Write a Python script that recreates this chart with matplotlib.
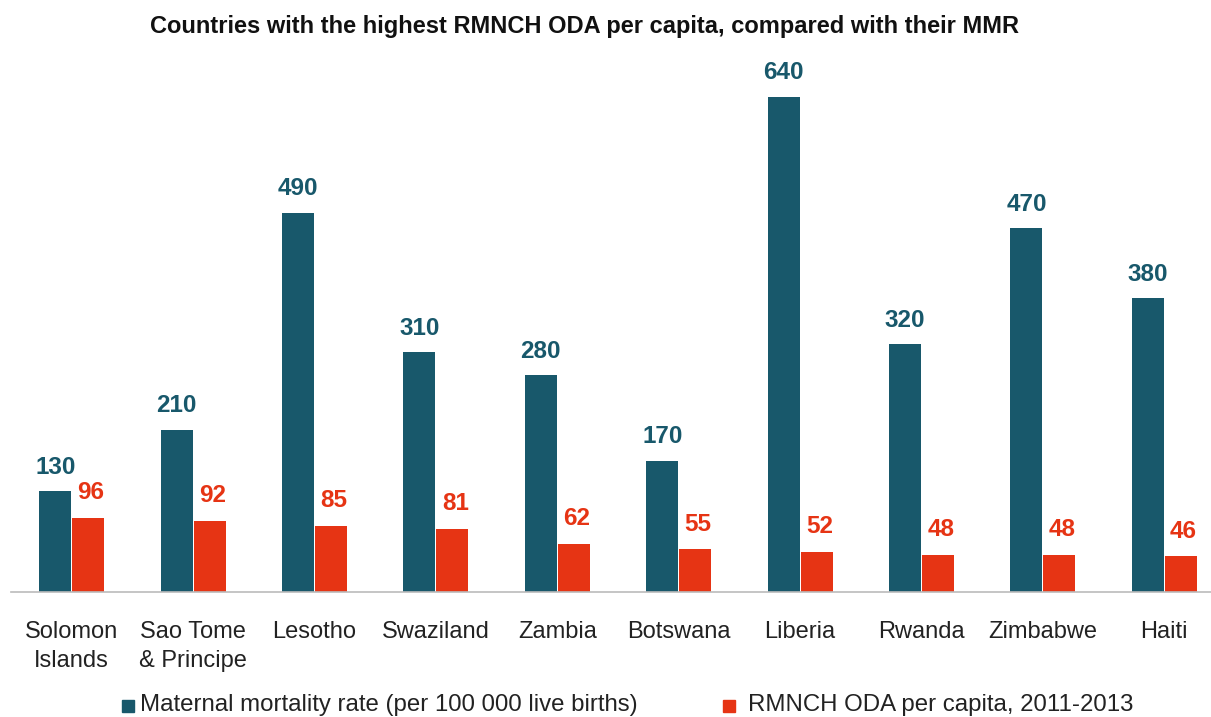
import matplotlib
matplotlib.use("Agg")
import matplotlib.pyplot as plt
import numpy as np
from matplotlib.patches import Rectangle

countries = ["Solomon\nIslands", "Sao Tome\n& Principe", "Lesotho", "Swaziland", "Zambia",
             "Botswana", "Liberia", "Rwanda", "Zimbabwe", "Haiti"]
mmr = [130, 210, 490, 310, 280, 170, 640, 320, 470, 380]
oda = [96, 92, 85, 81, 62, 55, 52, 48, 48, 46]
mmr_label = "Maternal mortality rate (per 100 000 live births)"
oda_label = "RMNCH ODA per capita, 2011-2013"
title = "Countries with the highest RMNCH ODA per capita, compared with their MMR"

teal = "#18586b"
red = "#e63414"

plt.rcParams['font.family'] = ['Liberation Sans', 'DejaVu Sans']

W, H = 1211, 717
fig = plt.figure(figsize=(W/100, H/100), dpi=100)
ax_left = 11 / W
ax_bottom = 1 - 592 / H
ax_top = 1 - 51 / H
ax = fig.add_axes([ax_left, ax_bottom, 1 - ax_left, ax_top - ax_bottom])

x = np.arange(len(countries))
bw = 0.264
gap = 0.004
b1 = ax.bar(x - bw/2 - gap, mmr, width=bw, color=teal)
b2 = ax.bar(x + bw/2 + gap, oda, width=bw, color=red)

for rect, v in zip(b1, mmr):
    ax.annotate(str(v), (rect.get_x() + rect.get_width()/2, v), xytext=(0, 9),
                textcoords="offset points", ha="center", va="bottom",
                fontsize=17.5, fontweight="bold", color=teal)
for rect, v in zip(b2, oda):
    ax.annotate(str(v), (rect.get_x() + rect.get_width()/2, v), xytext=(2, 10),
                textcoords="offset points", ha="center", va="bottom",
                fontsize=17.5, fontweight="bold", color=red)

px_per_unit = 0.7735
ax.set_ylim(0, (592 - 51) / px_per_unit)
ax.set_xlim(-0.5, -0.5 + (W - 11) / 121.4)
ax.set_xticks(x)
ax.set_xticklabels(countries, fontsize=17, color="#222222", linespacing=1.4)
ax.tick_params(axis="x", length=0, pad=21)
ax.set_yticks([])
for s in ["top", "right", "left"]:
    ax.spines[s].set_visible(False)
ax.spines["bottom"].set_color("#bbbbbb")
ax.spines["bottom"].set_linewidth(1.2)

fig.text(585 / W, 1 - 27 / H, title, ha="center", va="center",
         fontsize=17, fontweight="bold", color="#111111")

fig.patches.append(Rectangle((122 / W, 1 - 712 / H), 12 / W, 12 / H,
                             transform=fig.transFigure, color=teal))
fig.text(140 / W, 1 - 705 / H, mmr_label, ha="left", va="center", fontsize=17.3, color="#222222")
fig.patches.append(Rectangle((723 / W, 1 - 712 / H), 12 / W, 12 / H,
                             transform=fig.transFigure, color=red))
fig.text(748 / W, 1 - 705 / H, oda_label, ha="left", va="center", fontsize=17.3, color="#222222")

fig.savefig("out.png", dpi=100)
